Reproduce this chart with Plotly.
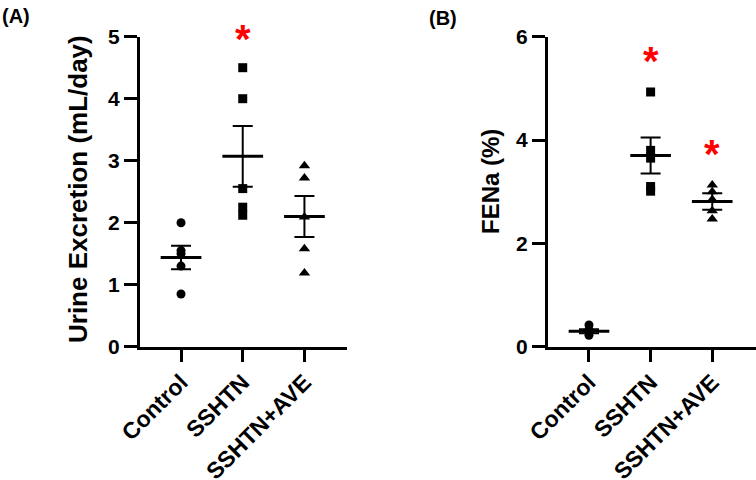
import plotly.graph_objects as go

W, H = 756, 480

categories = ["Control", "SSHTN", "SSHTN+AVE"]

# Panel A: urine excretion (mL/day)
a_control = [2.0, 1.55, 1.5, 1.3, 0.85]
a_sshtn = [4.5, 4.0, 2.55, 2.25, 2.12]
a_ave = [2.92, 2.72, 2.09, 1.58, 1.19]
a_mean = [1.44, 3.07, 2.10]
a_sem = [0.19, 0.49, 0.33]
a_star_y = [None, 5.06, None]

# Panel B: FENa (%)
b_control = [0.42, 0.33, 0.28, 0.22]
b_sshtn = [4.93, 3.8, 3.65, 3.1, 3.01]
b_ave = [3.13, 3.0, 2.85, 2.63, 2.47]
b_mean = [0.30, 3.70, 2.81]
b_sem = [0.04, 0.35, 0.16]
b_star_y = [None, 5.65, 3.84]

y_max_a = 5
y_max_b = 6
y_ticks_a = [0, 1, 2, 3, 4, 5]
y_ticks_b = [0, 2, 4, 6]

FONT = "Liberation Sans, Arial, sans-serif"
symbols = ["circle", "square", "triangle-up"]
msizes = [9, 9, 10]

fig = go.Figure()


def add_panel(groups, means, sems, stars, ymax, xa, ya):
    for i, vals in enumerate(groups):
        fig.add_trace(go.Scatter(
            x=[i] * len(vals), y=vals, mode="markers",
            marker=dict(symbol=symbols[i], size=msizes[i], color="black"),
            xaxis=xa, yaxis=ya, showlegend=False, cliponaxis=False,
            hoverinfo="skip"))
        # mean line
        fig.add_trace(go.Scatter(
            x=[i - 0.33, i + 0.33], y=[means[i], means[i]], mode="lines",
            line=dict(color="black", width=3),
            xaxis=xa, yaxis=ya, showlegend=False, cliponaxis=False,
            hoverinfo="skip"))
        # SEM error bar
        fig.add_trace(go.Scatter(
            x=[i], y=[means[i]], mode="markers",
            marker=dict(size=1, color="rgba(0,0,0,0)"),
            error_y=dict(type="data", array=[sems[i]], visible=True,
                         color="black", thickness=2, width=10),
            xaxis=xa, yaxis=ya, showlegend=False, cliponaxis=False,
            hoverinfo="skip"))
        if stars[i] is not None:
            fig.add_annotation(
                x=i, y=stars[i] / ymax, xref=xa, yref=ya + " domain",
                text="*", showarrow=False,
                font=dict(family=FONT, size=40, color="red", weight="bold"),
                xanchor="center", yanchor="middle", yshift=-6)


add_panel([a_control, a_sshtn, a_ave], a_mean, a_sem, a_star_y, y_max_a, "x", "y")
add_panel([b_control, b_sshtn, b_ave], b_mean, b_sem, b_star_y, y_max_b, "x2", "y2")

ytickfont = dict(family=FONT, size=21, color="black", weight="bold")
xtickfont = dict(family=FONT, size=23, color="black", weight="bold")
y_dom = [1 - 346.7 / H, 1 - 36.7 / H]

common_x = dict(tickmode="array", tickvals=[0, 1, 2], ticktext=categories,
                tickangle=-45, showline=True, linecolor="black", linewidth=3,
                ticks="outside", ticklen=12, tickwidth=3, tickcolor="black",
                showgrid=False, zeroline=False, tickfont=xtickfont,
                automargin=False, ticklabelstandoff=-2)
common_y = dict(showline=True, linecolor="black", linewidth=3,
                ticks="outside", ticklen=13, tickwidth=3, tickcolor="black",
                showgrid=False, zeroline=False, tickfont=ytickfont,
                tickmode="array", automargin=False)

fig.update_layout(
    width=W, height=H,
    margin=dict(l=0, r=0, t=0, b=0),
    paper_bgcolor="white", plot_bgcolor="white",
    xaxis=dict(domain=[140 / W, 347 / W], range=[-0.665, 2.69],
               anchor="y", **common_x),
    yaxis=dict(domain=y_dom, range=[0, y_max_a], tickvals=y_ticks_a,
               anchor="x", **common_y),
    xaxis2=dict(domain=[548 / W, 1.0], range=[-0.665, 2.71],
                anchor="y2", **common_x),
    yaxis2=dict(domain=y_dom, range=[0, y_max_b], tickvals=y_ticks_b,
                anchor="x2", **common_y),
)

fig.add_annotation(x=78 / W, y=1 - 189 / H, xref="paper", yref="paper",
                   text="Urine Excretion (mL/day)", textangle=-90,
                   showarrow=False, xanchor="center", yanchor="middle",
                   font=dict(family=FONT, size=26, color="black", weight="bold"))
fig.add_annotation(x=490 / W, y=1 - 182 / H, xref="paper", yref="paper",
                   text="FENa (%)", textangle=-90,
                   showarrow=False, xanchor="center", yanchor="middle",
                   font=dict(family=FONT, size=24, color="black", weight="bold"))
fig.add_annotation(x=0, y=1 - 3 / H, xref="paper", yref="paper",
                   text="(A)", showarrow=False, xanchor="left", yanchor="top",
                   font=dict(family=FONT, size=20, color="black", weight="bold"))
fig.add_annotation(x=427 / W, y=1 - 5 / H, xref="paper", yref="paper",
                   text="(B)", showarrow=False, xanchor="left", yanchor="top",
                   font=dict(family=FONT, size=20, color="black", weight="bold"))

fig.write_html(
    "out.html",
    config={"displayModeBar": False},
    post_script="document.body.style.margin='0';document.body.style.overflow='hidden';")
